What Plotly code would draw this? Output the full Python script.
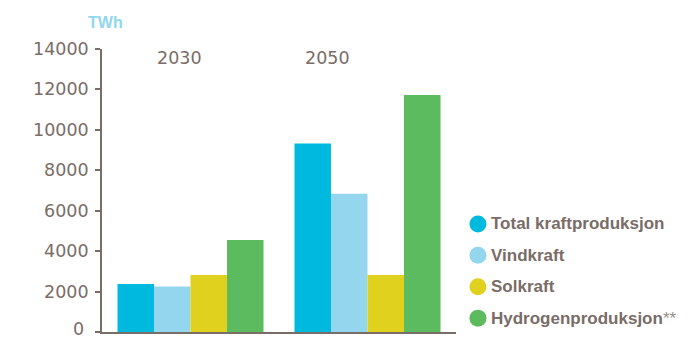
import plotly.graph_objects as go

# Energy production by source, TWh
years = ["2030", "2050"]
series = ["Total kraftproduksjon", "Vindkraft", "Solkraft", "Hydrogenproduksjon"]
legend_suffix = ["", "", "", "**"]
values = {
    "Total kraftproduksjon": [2380, 9330],
    "Vindkraft": [2250, 6840],
    "Solkraft": [2820, 2820],
    "Hydrogenproduksjon": [4550, 11720],
}
colors = ["#00b9df", "#93d6ed", "#e1d11f", "#5dbb5f"]
y_ticks = [0, 2000, 4000, 6000, 8000, 10000, 12000, 14000]

text_col = "#7a6c67"
num_font = "DejaVu Sans, sans-serif"
label_font = "Liberation Sans, Arial, sans-serif"

fig = go.Figure()
for name, col in zip(series, colors):
    fig.add_trace(go.Bar(
        x=years, y=values[name], name=name,
        marker=dict(color=col, line=dict(width=0)),
        showlegend=False,
    ))

# y tick labels, right-aligned next to the tick marks
for v in y_ticks:
    is_zero = v == 0
    fig.add_annotation(x=0, y=v, xref="paper", yref="y",
                       xanchor="right", yanchor="middle",
                       xshift=-11 - (5 if is_zero else 0),
                       yshift=3 if is_zero else 0,
                       text=str(v), showarrow=False,
                       font=dict(size=17.5, color=text_col, family=num_font))

# year labels near the top of the plot, slightly left of each group
year_label_x = [0.22, 0.638]
for yr, px in zip(years, year_label_x):
    fig.add_annotation(x=px, y=1.0, xref="paper", yref="paper",
                       xanchor="center", yanchor="middle",
                       yshift=-9, text=yr, showarrow=False,
                       font=dict(size=17.5, color=text_col, family=num_font))

fig.add_annotation(x=0, y=1.0, xref="paper", yref="paper", xanchor="center",
                   yanchor="middle", xshift=3, yshift=27, text="<b>TWh</b>", showarrow=False,
                   font=dict(size=16, color="#8fd6ef", family=label_font))

# legend: circle swatches with bold labels to the right of the plot
legend_top = 0.382
legend_step = 0.111
for i, (name, col, suf) in enumerate(zip(series, colors, legend_suffix)):
    yy = legend_top - i * legend_step
    fig.add_shape(type="circle", xref="paper", yref="paper",
                  xsizemode="pixel", ysizemode="pixel",
                  xanchor=1.062, yanchor=yy, x0=-8.5, x1=8.5, y0=-8.5, y1=8.5,
                  fillcolor=col, line=dict(width=0))
    label = f"<b>{name}</b>" + (f"<span style='color:#9a8e8a'>{suf}</span>" if suf else "")
    fig.add_annotation(x=1.062, y=yy, xref="paper", yref="paper",
                       xanchor="left", yanchor="middle", xshift=11,
                       text=label, showarrow=False,
                       font=dict(size=17, color=text_col, family=label_font))

fig.update_layout(
    width=700, height=338,
    margin=dict(l=102, r=244, t=49, b=6),
    paper_bgcolor="white", plot_bgcolor="white",
    barmode="group", bargap=0.175, bargroupgap=0,
    font=dict(family=label_font, color=text_col),
    showlegend=False,
    xaxis=dict(
        type="category",
        range=[-0.5, 1.5], showticklabels=False, ticks="",
        showline=True, linecolor=text_col, linewidth=2,
        showgrid=False, zeroline=False,
    ),
    yaxis=dict(
        range=[0, 14000], tickvals=y_ticks, showticklabels=False,
        ticks="outside", ticklen=5, tickcolor=text_col, tickwidth=1.5,
        showline=True, linecolor=text_col, linewidth=2,
        showgrid=False, zeroline=False, automargin=False,
    ),
)

fig.write_html("out.html")
